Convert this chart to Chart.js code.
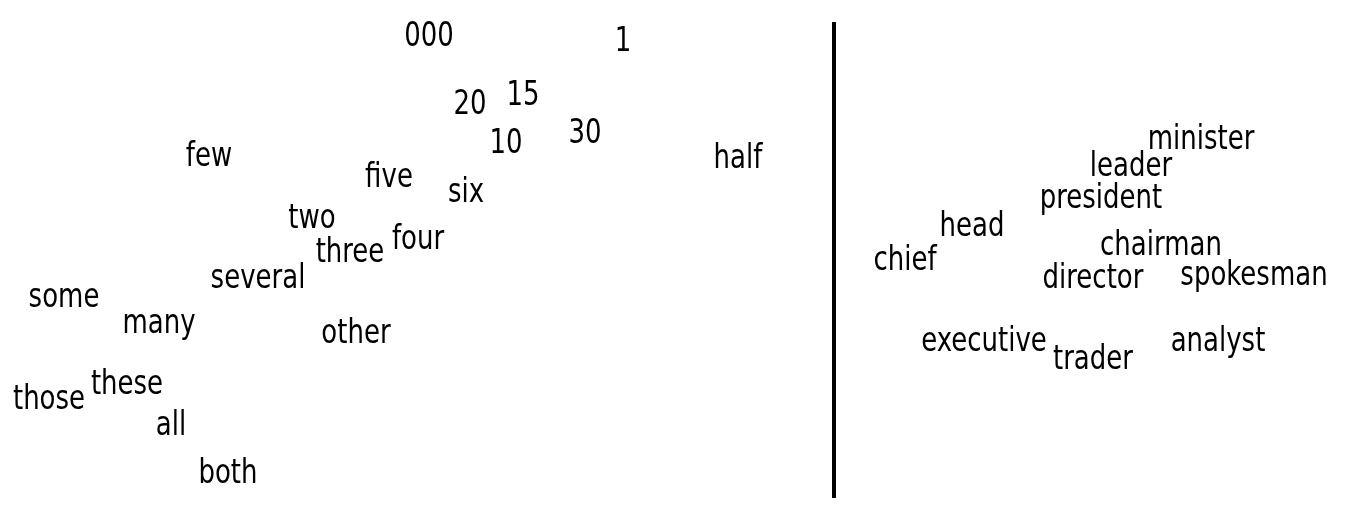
<!DOCTYPE html>
<html>
<head>
<meta charset="utf-8">
<script src="https://cdn.jsdelivr.net/npm/chart.js@4"></script>
<style>
html,body{margin:0;padding:0;background:#fff;}
canvas{display:block;}
</style>
</head>
<body>
<canvas id="c" width="1358" height="505"></canvas>
<script>
// Left cluster: numbers / quantifiers
const leftWords = ["000","1","20","15","10","30","half","few","five","six","two","four","three","several","some","many","other","those","these","all","both"];
const leftX = [429,623,470,523,506,585,738,209,389,466,312,418,350,258,64,159,356,49,127,171,228];
const leftY = [33,38,101,92,140,130,155,153,174,189,215,236,249,275,294,320,330,396,381,422,470];
// Right cluster: roles
const rightWords = ["minister","leader","president","head","chief","chairman","director","spokesman","executive","trader","analyst"];
const rightX = [1201,1131,1101,972,905,1161,1093,1254,984,1093,1218];
const rightY = [136,163,195,223,257,242,275,272,338,356,338];
// Divider
const dividerX = [834,834];
const dividerY = [22,498];

const toPts = (xs, ys) => xs.map((x,i)=>({x:x, y:ys[i]}));

const FONT_PX = 34, H_SCALE = 0.85;
const wordLabels = {
  id: 'wordLabels',
  afterDatasetsDraw(chart) {
    const ctx = chart.ctx;
    chart.data.datasets.forEach((ds, di) => {
      if (!ds.words) return;
      const meta = chart.getDatasetMeta(di);
      meta.data.forEach((pt, i) => {
        ctx.save();
        ctx.fillStyle = '#000';
        ctx.font = FONT_PX + "px 'DejaVu Sans Condensed', 'DejaVu Sans'";
        ctx.textAlign = 'center';
        ctx.textBaseline = 'alphabetic';
        ctx.translate(pt.x, pt.y + 13);
        ctx.scale(H_SCALE, 1);
        ctx.fillText(ds.words[i], 0, 0);
        ctx.restore();
      });
    });
  }
};

new Chart(document.getElementById('c'), {
  type: 'scatter',
  data: {
    datasets: [
      { data: toPts(leftX,leftY), words: leftWords, pointRadius: 0, pointHoverRadius: 0 },
      { data: toPts(rightX,rightY), words: rightWords, pointRadius: 0, pointHoverRadius: 0 },
      { type: 'line', data: toPts(dividerX,dividerY), borderColor: '#000', borderWidth: 4, pointRadius: 0, fill: false, borderCapStyle: 'butt' }
    ]
  },
  options: {
    responsive: false,
    animation: false,
    events: [],
    layout: { padding: 0 },
    plugins: { legend: { display: false }, tooltip: { enabled: false } },
    scales: {
      x: { type: 'linear', min: 0, max: 1358, display: false },
      y: { type: 'linear', min: 0, max: 505, reverse: true, display: false }
    }
  },
  plugins: [wordLabels]
});
</script>
</body>
</html>
